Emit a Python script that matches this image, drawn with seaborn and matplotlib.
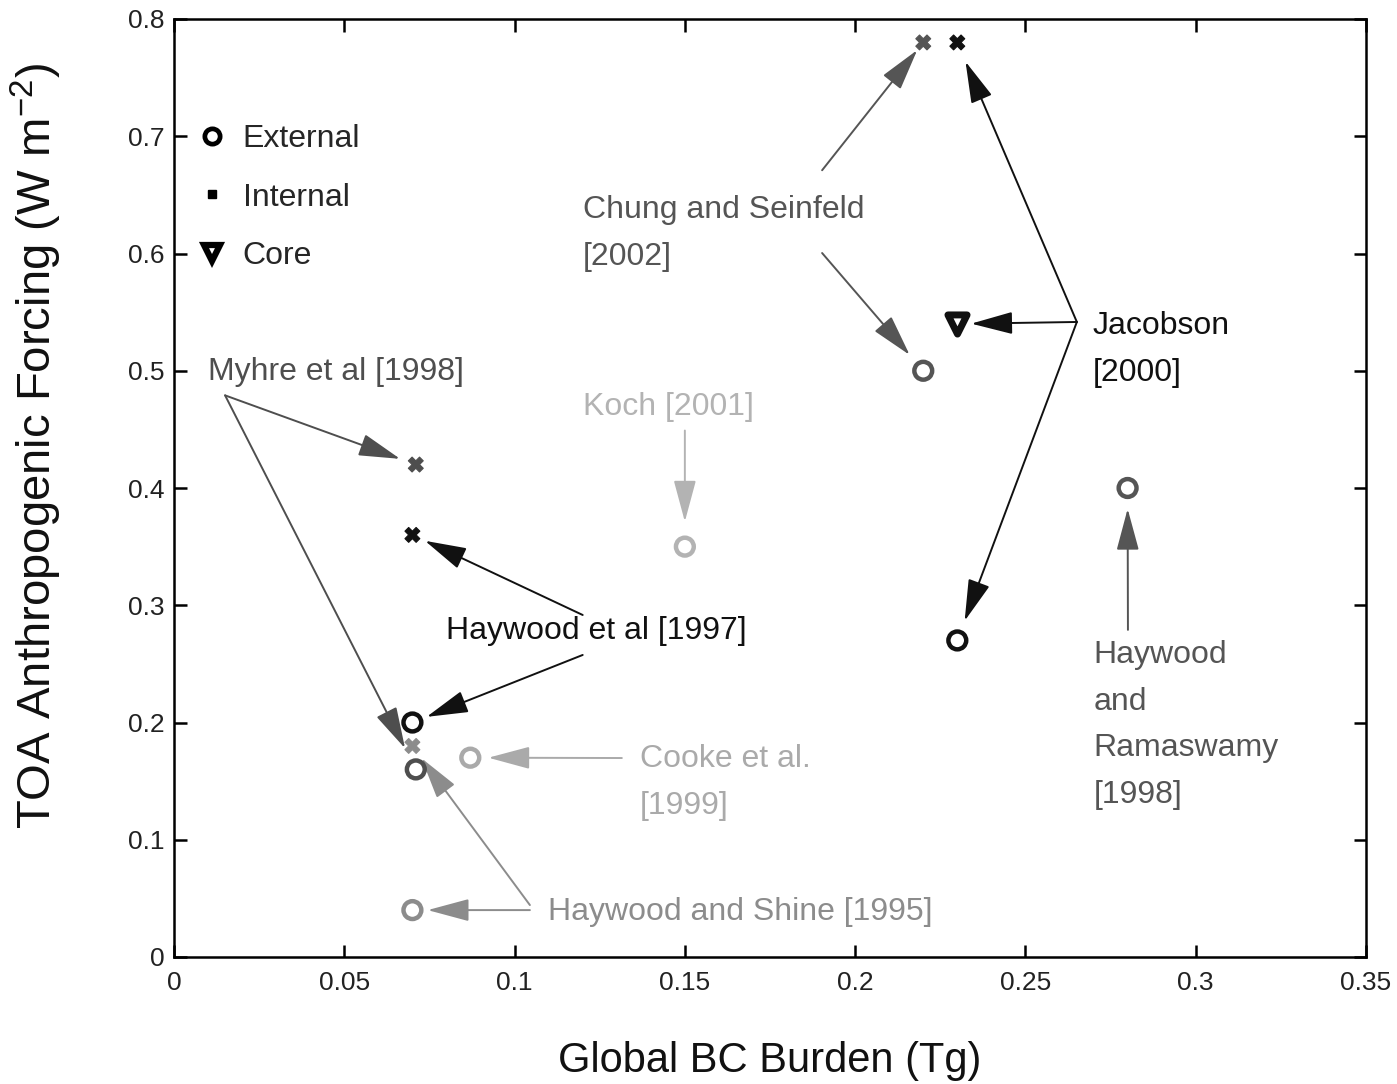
import numpy as np
import pandas as pd
import matplotlib
matplotlib.use("Agg")
import matplotlib.pyplot as plt
import seaborn as sns
from matplotlib.lines import Line2D
from matplotlib.ticker import FuncFormatter

# ---------------- data ----------------
study = ["H97", "H97", "M98", "M98", "HS95", "HS95", "C99", "K01",
         "CS02", "CS02", "J00", "J00", "J00", "HR98"]
mixing = ["External", "Internal", "External", "Internal", "External", "Internal",
          "External", "External", "External", "Internal", "External", "Internal",
          "Core", "External"]
burden = [0.070, 0.070, 0.071, 0.071, 0.070, 0.070, 0.087, 0.150,
          0.220, 0.220, 0.230, 0.230, 0.230, 0.280]
forcing = [0.20, 0.36, 0.16, 0.42, 0.04, 0.18, 0.17, 0.35,
           0.50, 0.78, 0.27, 0.78, 0.54, 0.40]

study_keys = ["H97", "M98", "HS95", "C99", "K01", "CS02", "J00", "HR98"]
study_labels = ["Haywood et al [1997]", "Myhre et al [1998]", "Haywood and Shine [1995]",
                "Cooke et al.\n[1999]", "Koch [2001]", "Chung and Seinfeld\n[2002]",
                "Jacobson\n[2000]", "Haywood\nand\nRamaswamy\n[1998]"]
study_colors = ["#111111", "#4e4e4e", "#8c8c8c", "#aaaaaa", "#b3b3b3",
                "#555555", "#111111", "#555555"]

x_ticks = [0, 0.05, 0.1, 0.15, 0.2, 0.25, 0.3, 0.35]
y_ticks = [0, 0.1, 0.2, 0.3, 0.4, 0.5, 0.6, 0.7, 0.8]

df = pd.DataFrame({"study": study, "mixing": mixing,
                   "burden": burden, "forcing": forcing})
cmap = dict(zip(study_keys, study_colors))
df["color"] = df["study"].map(cmap)

# ---------------- layout (label anchors and arrow starts) ----------------
label_pos = {"H97": (0.080, 0.278), "M98": (0.010, 0.499),
             "HS95": (0.1098, 0.038), "C99": (0.1368, 0.149),
             "K01": (0.120, 0.469), "CS02": (0.120, 0.617),
             "J00": (0.2698, 0.518), "HR98": (0.270, 0.198)}
# (study, mixing of target, start x, start y, shrink in points)
arrows = [("M98", "Internal", 0.015, 0.479, 12),
          ("M98", "External", 0.015, 0.479, 17),
          ("H97", "Internal", 0.120, 0.2917, 10),
          ("H97", "External", 0.120, 0.2576, 11),
          ("HS95", "External", 0.1045, 0.040, 11),
          ("HS95", "Internal", 0.1045, 0.0443, 11),
          ("C99", "External", 0.1315, 0.1697, 13),
          ("K01", "External", 0.150, 0.449, 18),
          ("CS02", "Internal", 0.1903, 0.671, 7),
          ("CS02", "External", 0.1903, 0.6004, 15),
          ("J00", "Internal", 0.2651, 0.5416, 15),
          ("J00", "Core", 0.2651, 0.5416, 10),
          ("J00", "External", 0.2651, 0.5416, 15),
          ("HR98", "External", 0.2801, 0.279, 15)]

# ---------------- style ----------------
sns.set_style("ticks")
plt.rcParams["font.family"] = ["Liberation Sans", "DejaVu Sans"]
plt.rcParams["axes.linewidth"] = 1.8
plt.rcParams["mathtext.fontset"] = "custom"
plt.rcParams["mathtext.rm"] = "Liberation Sans"
plt.rcParams["mathtext.it"] = "Liberation Sans"

fig = plt.figure(figsize=(13.97, 10.84), dpi=100)
ax = fig.add_axes([174 / 1397, 1 - 957 / 1084, (1366 - 174) / 1397, (957 - 19) / 1084])

marker_spec = {"External": dict(marker="o", s=165, lw=3.2, open=True),
               "Internal": dict(marker="X", s=115, lw=0.8, open=False),
               "Core": dict(marker="v", s=190, lw=5.0, open=True)}

for mix, spec in marker_spec.items():
    sub = df[df["mixing"] == mix]
    n0 = len(ax.collections)
    sns.scatterplot(data=sub, x="burden", y="forcing", marker=spec["marker"],
                    s=spec["s"], ax=ax, legend=False, zorder=5)
    coll = ax.collections[n0]
    coll.set_edgecolor(list(sub["color"]))
    coll.set_facecolor("white" if spec["open"] else list(sub["color"]))
    coll.set_linewidth(spec["lw"])

# arrows
for key, mix, sx, sy, shr in arrows:
    row = df[(df["study"] == key) & (df["mixing"] == mix)].iloc[0]
    ax.annotate("", xy=(row["burden"], row["forcing"]), xytext=(sx, sy),
                arrowprops=dict(arrowstyle="-|>,head_length=1.3,head_width=0.35",
                                color=cmap[key], lw=1.4, shrinkA=0, shrinkB=shr,
                                mutation_scale=20), zorder=4)

# labels
for key, lab in zip(study_keys, study_labels):
    x, y = label_pos[key]
    ax.text(x, y, lab, color=cmap[key], fontsize=23, ha="left", va="center",
            linespacing=1.72, zorder=6)

# legend
handles = [Line2D([], [], marker="o", ls="none", mfc="white", mec="black", ms=11, mew=3.4),
           Line2D([], [], marker="s", ls="none", mfc="black", mec="black", ms=5.5),
           Line2D([], [], marker="v", ls="none", mfc="white", mec="black", ms=11, mew=4.5)]
leg = ax.legend(handles, ["External", "Internal", "Core"], loc="upper left",
                bbox_to_anchor=(0.0134, 0.895), frameon=False, fontsize=23,
                handlelength=1.0, handletextpad=0.45, labelspacing=0.9,
                borderaxespad=0.0, borderpad=0.2)

ax.set_xlim(0, 0.35)
ax.set_ylim(0, 0.8)
ax.set_xticks(x_ticks)
ax.set_yticks(y_ticks)
fmt = FuncFormatter(lambda v, p: "%g" % round(v, 3))
ax.xaxis.set_major_formatter(fmt)
ax.yaxis.set_major_formatter(fmt)
ax.tick_params(direction="in", length=9, width=1.8, top=True, right=True,
               labelsize=19, colors="black", labelcolor="#222222")
ax.tick_params(axis="x", pad=10)
ax.tick_params(axis="y", pad=7)
for sp in ax.spines.values():
    sp.set_visible(True)
    sp.set_color("black")

ax.set_xlabel("Global BC Burden (Tg)", fontsize=30, labelpad=33, color="#111111")
ax.set_ylabel("TOA Anthropogenic Forcing (W m$^{-2}$)", fontsize=34, color="#111111")
ax.yaxis.set_label_coords(-0.092, 0.545)

fig.savefig("out.png", dpi=100)
